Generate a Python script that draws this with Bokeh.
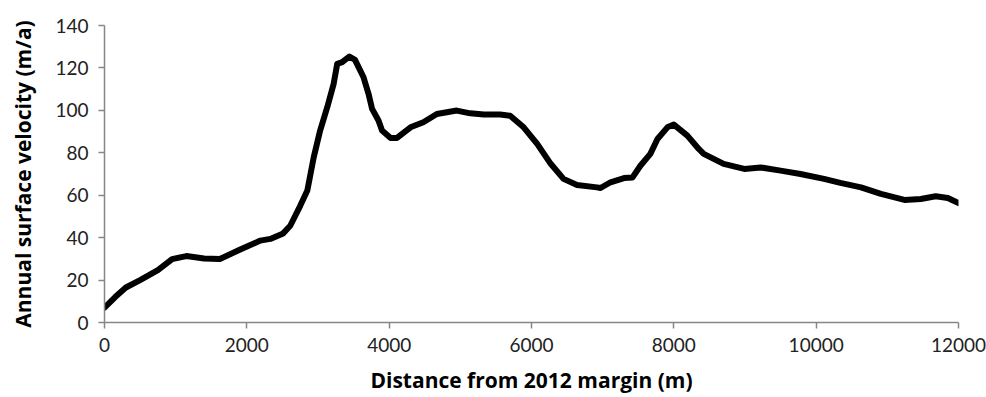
from bokeh.plotting import figure
from bokeh.models import Range1d, FixedTicker
from bokeh.embed import file_html
from bokeh.resources import INLINE

distance_m = [0, 150, 300, 500, 750, 950, 1150, 1400, 1620, 1900,
              2190, 2330, 2510, 2610, 2750, 2850, 2940, 3030, 3130, 3220,
              3270, 3340, 3440, 3520, 3640, 3710, 3760, 3850, 3900, 4020,
              4110, 4300, 4480, 4670, 4950, 5140, 5330, 5560, 5700, 5890,
              6080, 6270, 6450, 6640, 6920, 6970, 7110, 7300, 7420, 7530,
              7670, 7770, 7910, 8000, 8190, 8350, 8420, 8700, 8990, 9220,
              9500, 9780, 10110, 10340, 10630, 10910, 11240, 11470, 11680, 11850,
              12000]
velocity_ma = [7, 12, 16.5, 20, 24.7, 29.9, 31.3, 30.2, 29.9, 34.3,
               38.6, 39.4, 42, 45.6, 55, 62.2, 77.9, 90.5, 101.5, 112.5,
               121.9, 122.7, 125.4, 123.8, 115.6, 107.8, 100.7, 95.2, 90.5, 87,
               87, 92, 94.4, 98.3, 99.9, 98.6, 98, 98, 97.5, 92,
               84.2, 74.8, 67.7, 64.8, 63.7, 63.4, 66.1, 68.1, 68.4, 73.9,
               79.5, 86.5, 92, 93.3, 88.1, 81.8, 79.5, 74.8, 72.4, 73.1,
               71.6, 70, 67.7, 65.8, 63.7, 60.6, 57.8, 58.2, 59.5, 58.7,
               56.3]
x_ticks = [0, 2000, 4000, 6000, 8000, 10000, 12000]
y_ticks = [0, 20, 40, 60, 80, 100, 120, 140]

p = figure(width=986, height=397, output_backend="svg", toolbar_location=None,
           x_range=Range1d(0, 12000), y_range=Range1d(0, 140),
           min_border_left=104, min_border_right=28, min_border_top=25, min_border_bottom=75)
p.outline_line_color = None
p.grid.visible = False

p.line(distance_m, velocity_ma, line_color="black", line_width=6, line_join="round", line_cap="round")

for ax, ticks in ((p.xaxis[0], x_ticks), (p.yaxis[0], y_ticks)):
    ax.ticker = FixedTicker(ticks=ticks)
    ax.axis_line_color = "#868686"
    ax.axis_line_width = 1.5
    ax.major_tick_line_color = "#868686"
    ax.major_tick_line_width = 1.5
    ax.major_tick_out = 6
    ax.major_tick_in = 0
    ax.minor_tick_line_color = None
    ax.major_label_text_font = "Lato"
    ax.major_label_text_font_size = "19px"
    ax.major_label_text_color = "#222222"
    ax.axis_label_text_font = "Open Sans"
    ax.axis_label_text_font_style = "bold"
    ax.axis_label_text_font_size = "21px"
    ax.axis_label_text_color = "black"

p.xaxis[0].axis_label = "Distance from 2012 margin (m)"
p.yaxis[0].axis_label = "Annual surface velocity (m/a)"
p.xaxis[0].major_label_standoff = 9
p.xaxis[0].axis_label_standoff = 11
p.yaxis[0].major_label_standoff = 10
p.yaxis[0].axis_label_standoff = 15

open("out.html", "w").write(file_html(p, INLINE))
